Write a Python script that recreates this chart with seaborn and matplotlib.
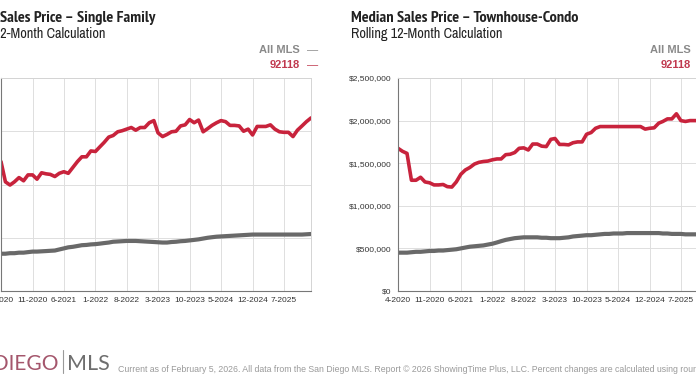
import numpy as np
import pandas as pd
import matplotlib.pyplot as plt
import matplotlib.ticker as mticker
from matplotlib import font_manager
import seaborn as sns

# monthly rolling 12-month medians, 4-2020 .. 1-2026 (70 months)
months = pd.date_range("2020-04-01", periods=70, freq="MS")
tick_labels = ["4-2020", "11-2020", "6-2021", "1-2022", "8-2022",
               "3-2023", "10-2023", "5-2024", "12-2024", "7-2025"]
series_names = ["All MLS", "92118"]

sf_all = [0.70, 0.70, 0.71, 0.71, 0.72, 0.72, 0.73, 0.74, 0.74, 0.745,
          0.75, 0.755, 0.76, 0.78, 0.80, 0.82, 0.83, 0.845, 0.86, 0.865,
          0.875, 0.88, 0.89, 0.90, 0.91, 0.925, 0.93, 0.935, 0.94, 0.94,
          0.94, 0.935, 0.93, 0.925, 0.92, 0.915, 0.91, 0.91, 0.92, 0.925,
          0.935, 0.94, 0.95, 0.96, 0.97, 0.985, 1.0, 1.01, 1.02, 1.025,
          1.03, 1.035, 1.04, 1.045, 1.05, 1.055, 1.06, 1.06, 1.06, 1.06,
          1.06, 1.06, 1.06, 1.06, 1.06, 1.06, 1.06, 1.06, 1.065, 1.07]
sf_92118 = [2.43, 2.05, 1.99, 2.05, 2.13, 2.07, 2.18, 2.18, 2.10, 2.22,
            2.20, 2.19, 2.15, 2.21, 2.24, 2.21, 2.32, 2.43, 2.52, 2.52,
            2.63, 2.62, 2.71, 2.79, 2.89, 2.92, 2.99, 3.01, 3.04, 3.07,
            3.02, 3.07, 3.07, 3.16, 3.20, 2.97, 2.90, 2.94, 2.99, 3.00,
            3.10, 3.12, 3.22, 3.16, 3.21, 2.99, 3.05, 3.11, 3.16, 3.20,
            3.18, 3.11, 3.11, 3.10, 3.00, 3.04, 2.93, 3.09, 3.09, 3.09,
            3.12, 3.04, 2.99, 2.98, 2.98, 2.90, 3.02, 3.10, 3.18, 3.25]
tc_all = [0.45, 0.45, 0.45, 0.455, 0.46, 0.46, 0.465, 0.47, 0.47, 0.475,
          0.475, 0.48, 0.485, 0.49, 0.50, 0.51, 0.52, 0.525, 0.53, 0.535,
          0.545, 0.555, 0.57, 0.585, 0.60, 0.61, 0.62, 0.625, 0.63, 0.63,
          0.63, 0.63, 0.625, 0.625, 0.62, 0.62, 0.62, 0.625, 0.63, 0.64,
          0.645, 0.65, 0.655, 0.655, 0.66, 0.665, 0.67, 0.67, 0.675, 0.675,
          0.675, 0.68, 0.68, 0.68, 0.68, 0.68, 0.68, 0.68, 0.68, 0.675,
          0.675, 0.67, 0.67, 0.67, 0.665, 0.665, 0.665, 0.665, 0.665, 0.665]
tc_92118 = [1.675, 1.64, 1.615, 1.30, 1.30, 1.335, 1.28, 1.27, 1.245, 1.245,
            1.25, 1.225, 1.22, 1.28, 1.37, 1.42, 1.45, 1.49, 1.51, 1.52,
            1.525, 1.54, 1.55, 1.55, 1.60, 1.605, 1.625, 1.675, 1.68, 1.655,
            1.725, 1.725, 1.70, 1.695, 1.78, 1.79, 1.72, 1.72, 1.715, 1.74,
            1.75, 1.75, 1.84, 1.86, 1.91, 1.93, 1.93, 1.93, 1.93, 1.93,
            1.93, 1.93, 1.93, 1.93, 1.93, 1.90, 1.91, 1.915, 1.97, 1.99,
            2.02, 2.02, 2.08, 2.0, 1.99, 2.0, 2.0, 2.0, 2.0, 2.0]

RED = "#c8233c"
GRAY = "#696969"
W, H = 696, 385

sns.set_style("white")
plt.rcParams["font.family"] = ["Liberation Sans", "DejaVu Sans"]


# titles in the reference use a narrow face; pick the narrowest one installed
def rank(f):
    n = f.fname
    if "Narrow" in n:
        return 0
    if "Condensed" in n and not any(k in n for k in ("Semi", "Extra", "Ultra")):
        return 1
    if "SemiCondensed" in n:
        return 2
    return 9


cands = [f for f in font_manager.fontManager.ttflist
         if rank(f) < 9 and f.style == "normal"]
cand_reg = sorted([f for f in cands if f.weight in (400, "normal", "regular")], key=rank)
cand_bold = sorted([f for f in cands if f.weight in (700, "bold")], key=rank)
if cand_reg and cand_bold:
    title_fp = font_manager.FontProperties(fname=cand_bold[0].fname, size=10.3)
    sub_fp = font_manager.FontProperties(fname=cand_reg[0].fname, size=10.3)
else:
    title_fp = font_manager.FontProperties(family="Liberation Sans", weight="bold", size=8.6)
    sub_fp = font_manager.FontProperties(family="Liberation Sans", size=8.6)

fig = plt.figure(figsize=(W / 100, H / 100), dpi=100)
renderer = fig.canvas.get_renderer()

# scale the title faces so the texts are as wide as in the reference
probe = fig.text(0, 0, "Median Sales Price – Townhouse-Condo", fontproperties=title_fp)
title_fp.set_size(title_fp.get_size() * 227 / probe.get_window_extent(renderer).width)
probe.remove()
probe = fig.text(0, 0, "Rolling 12-Month Calculation", fontproperties=sub_fp)
sub_fp.set_size(sub_fp.get_size() * 152 / probe.get_window_extent(renderer).width)
probe.remove()


def px(x, y):
    # pixel position (from top-left) -> figure fraction
    return x / W, 1 - y / H


def money(v, _):
    return f"${v:,.0f}"


def draw_panel(left, all_vals, zip_vals, ymax, ystep, title, sub, legend_right):
    ax = fig.add_axes([left / W, 94 / H, 310 / W, 213 / H])
    df = pd.DataFrame({
        "month": list(months) * 2,
        "price": np.array(all_vals + zip_vals) * 1e6,
        "series": [series_names[0]] * len(months) + [series_names[1]] * len(months),
    })
    sns.lineplot(data=df, x="month", y="price", hue="series",
                 palette={series_names[0]: GRAY, series_names[1]: RED},
                 size="series", sizes={series_names[0]: 3.0, series_names[1]: 2.6},
                 legend=False, ax=ax)
    ax.set_xlim(months[0], months[-1])
    ax.set_ylim(0, ymax)
    ax.set_yticks(np.arange(0, ymax + 1, ystep))
    ax.yaxis.set_major_formatter(mticker.FuncFormatter(money))
    ax.set_xticks(months[::7])
    ax.set_xticklabels(tick_labels)
    ax.set_xlabel("")
    ax.set_ylabel("")
    ax.grid(True, color="#dedede", linewidth=0.7)
    for s in ["top", "right"]:
        ax.spines[s].set_color("#d4d4d4")
        ax.spines[s].set_linewidth(0.7)
    for s in ["left", "bottom"]:
        ax.spines[s].set_color("#777777")
        ax.spines[s].set_linewidth(0.8)
    ax.tick_params(length=3, width=0.7, color="#777777", labelsize=6,
                   labelcolor="#333333", pad=1.5)

    # titles
    tx = left - 47
    fig.text(*px(tx, 22), title, color="#222222", va="baseline", fontproperties=title_fp)
    fig.text(*px(tx, 38), sub, color="#222222", va="baseline", fontproperties=sub_fp)

    # legend text
    for name, col, y in [(series_names[0], "#8a8a8a", 53), (series_names[1], "#c0394f", 68)]:
        fig.text(*px(legend_right, y), name, fontsize=8, fontweight="bold",
                 color=col, ha="right", va="baseline")
        fig.text(*px(legend_right + 7, y), "—", fontsize=8,
                 color=col, ha="left", va="baseline")
    return ax


draw_panel(1, sf_all, sf_92118, 4_000_000, 1_000_000,
           "Median Sales Price – Single Family", "Rolling 12-Month Calculation", 300)
draw_panel(398, tc_all, tc_92118, 2_500_000, 500_000,
           "Median Sales Price – Townhouse-Condo", "Rolling 12-Month Calculation", 691)

# footer logo and note
fig.text(*px(58, 370), "SAN DIEGO", family=["Lato", "DejaVu Sans"],
         fontsize=15, color="#a4566c", ha="right", va="baseline")
fig.add_artist(plt.Line2D([63 / W, 63 / W], [1 - 350 / H, 1 - 373 / H],
                          color="#9a9a9a", linewidth=0.8))
fig.text(*px(67, 370), "MLS", family=["Lato", "DejaVu Sans"],
         fontsize=15.5, color="#6e6e6e", ha="left", va="baseline")
fig.text(*px(118, 372),
         "Current as of February 5, 2026. All data from the San Diego MLS. "
         "Report © 2026 ShowingTime Plus, LLC. Percent changes are calculated using rounded figures.",
         fontsize=6.3, color="#9a9a9a", ha="left", va="baseline")

fig.savefig("out.png", dpi=100)
